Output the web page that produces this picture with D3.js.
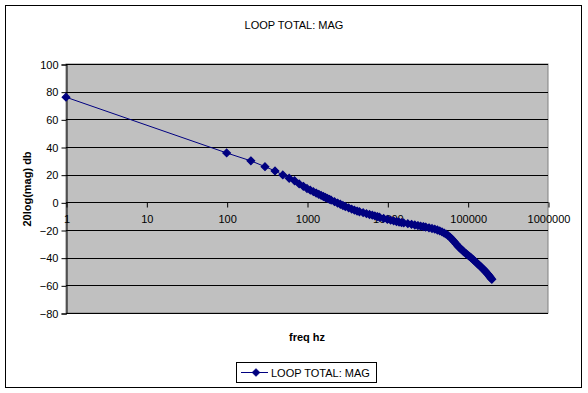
<!DOCTYPE html>
<html>
<head>
<meta charset="utf-8">
<script src="https://cdn.jsdelivr.net/npm/d3@7"></script>
<style>
  body { margin: 0; background: #fff; }
  svg text { font-family: "Liberation Sans", Arial, sans-serif; }
</style>
</head>
<body>
<div id="chart"></div>
<script>
"use strict";

// Chart data
var freqHz = [1, 100, 200, 300, 400, 500, 600, 700, 800, 900,
	1000, 1100, 1200, 1300, 1400, 1500, 1600, 1700, 1800, 1900,
	2000, 2200, 2400, 2600, 2800, 3000, 3300, 3600, 3900, 4200,
	4500, 5000, 5500, 6000, 6500, 7000, 7500, 8000, 9000, 10000,
	11000, 12000, 13000, 14000, 15000, 16000, 18000, 20000, 22000, 24000,
	26000, 28000, 30000, 33000, 36000, 39000, 42000, 45000, 48000, 51000,
	54000, 57000, 60000, 63000, 66000, 69000, 72000, 75000, 78000, 81000,
	84000, 87000, 90000, 95000, 100000, 105000, 110000, 115000, 120000, 125000,
	130000, 135000, 140000, 145000, 150000, 155000, 160000, 165000, 170000, 175000,
	180000, 185000, 190000, 195000, 200000];

var magDb = [76, 35.7, 30, 25.8, 22.7, 19.8, 17.4, 15.6, 13.3, 11.6,
	10, 8.8, 7.7, 6.7, 5.8, 5, 4.2, 3.5, 2.8, 2.2,
	1.6, 0.5, -0.5, -1.4, -2.3, -3, -4, -4.9, -5.7, -6.3,
	-6.8, -7.5, -8.2, -8.8, -9.3, -9.8, -10.3, -10.8, -11.6, -12.3,
	-12.9, -13.4, -13.9, -14.3, -14.6, -14.9, -15.4, -15.9, -16.4, -16.8,
	-17.2, -17.5, -17.9, -18.4, -18.9, -19.4, -20, -20.7, -21.4, -22.2,
	-23, -24, -25.1, -26.3, -27.6, -28.9, -30.2, -31.3, -32.4, -33.3,
	-34.2, -35, -35.8, -37, -38, -39, -40, -41, -42, -43,
	-43.9, -44.8, -45.6, -46.4, -47.3, -48.1, -48.9, -49.7, -50.6, -51.4,
	-52.2, -53.1, -54, -54.8, -55.6];

var xTicks = [1, 10, 100, 1000, 10000, 100000, 1000000];
var yTicks = [-80, -60, -40, -20, 0, 20, 40, 60, 80, 100];

var seriesName = "LOOP TOTAL: MAG";

// Dimensions
var width = 588,
	height = 393,
	plot = { left: 66, right: 548, top: 64, bottom: 313 },
	navy = "#000080";

var svg = d3.select("#chart").append("svg")
	.attr("width", width)
	.attr("height", height);

// Outer chart border
svg.append("rect")
	.attr("x", 5.5).attr("y", 5.5)
	.attr("width", 576).attr("height", 382)
	.attr("fill", "#fff")
	.attr("stroke", "#000");

// Scales
var x = d3.scaleLog()
	.domain([1, 1000000])
	.range([plot.left, plot.right]);

var y = d3.scaleLinear()
	.domain([-80, 100])
	.range([plot.bottom, plot.top]);

// Plot area
svg.append("rect")
	.attr("x", plot.left).attr("y", plot.top)
	.attr("width", plot.right - plot.left)
	.attr("height", plot.bottom - plot.top)
	.attr("fill", "#c0c0c0")
	.attr("stroke", "#808080");

// Horizontal gridlines
svg.append("g")
	.selectAll("line")
	.data(yTicks)
	.enter().append("line")
	.attr("x1", plot.left).attr("x2", plot.right)
	.attr("y1", function (d) { return Math.round(y(d)) + 0.5; })
	.attr("y2", function (d) { return Math.round(y(d)) + 0.5; })
	.attr("stroke", "#000");

// Y axis
var yAxis = d3.axisLeft(y)
	.tickValues(yTicks)
	.tickSize(5)
	.tickPadding(3);

var yG = svg.append("g")
	.attr("transform", "translate(" + (plot.left + 0.5) + ",0.5)")
	.call(yAxis);
yG.select(".domain").attr("stroke", "#000");
yG.selectAll("text")
	.attr("font-size", "11px")
	.attr("fill", "#000");

// X axis, crossing at 0 db
var xAxis = d3.axisBottom(x)
	.tickValues(xTicks)
	.tickFormat(d3.format("d"))
	.tickSize(5)
	.tickPadding(8);

var xG = svg.append("g")
	.attr("transform", "translate(0.5," + (Math.round(y(0)) + 0.5) + ")")
	.call(xAxis);
xG.select(".domain").attr("d", "M" + plot.left + ",0H" + plot.right).attr("stroke", "#000");
xG.selectAll("text")
	.attr("font-size", "11px")
	.attr("fill", "#000");

// Data
var points = freqHz.map(function (f, i) {
	return { f: f, db: magDb[i] };
});

var line = d3.line()
	.x(function (d) { return x(d.f); })
	.y(function (d) { return y(d.db); });

svg.append("path")
	.datum(points)
	.attr("d", line)
	.attr("fill", "none")
	.attr("stroke", navy)
	.attr("stroke-width", 1);

var r = 3.8;
var diamond = "M0," + (-r) + "L" + r + ",0L0," + r + "L" + (-r) + ",0Z";

svg.append("g")
	.selectAll("path")
	.data(points)
	.enter().append("path")
	.attr("d", diamond)
	.attr("transform", function (d) {
		return "translate(" + x(d.f) + "," + y(d.db) + ")";
	})
	.attr("fill", navy)
	.attr("stroke", navy)
	.attr("stroke-width", 1.2);

// Title
svg.append("text")
	.attr("x", 294).attr("y", 29)
	.attr("text-anchor", "middle")
	.attr("font-size", "11px")
	.text(seriesName);

// Axis titles
svg.append("text")
	.attr("x", 307).attr("y", 341)
	.attr("text-anchor", "middle")
	.attr("font-size", "11px")
	.attr("font-weight", "bold")
	.text("freq hz");

svg.append("text")
	.attr("transform", "translate(31,189) rotate(-90)")
	.attr("text-anchor", "middle")
	.attr("font-size", "11px")
	.attr("font-weight", "bold")
	.text("20log(mag) db");

// Legend
var legend = svg.append("g")
	.attr("transform", "translate(236,362)");

legend.append("rect")
	.attr("x", 0.5).attr("y", 0.5)
	.attr("width", 140).attr("height", 20)
	.attr("fill", "#fff")
	.attr("stroke", "#000");

legend.append("line")
	.attr("x1", 5).attr("x2", 32)
	.attr("y1", 10.5).attr("y2", 10.5)
	.attr("stroke", navy);

legend.append("path")
	.attr("d", diamond)
	.attr("transform", "translate(20,10.5)")
	.attr("fill", navy)
	.attr("stroke", navy);

legend.append("text")
	.attr("x", 35).attr("y", 14.5)
	.attr("font-size", "11px")
	.text(seriesName);
</script>
</body>
</html>
